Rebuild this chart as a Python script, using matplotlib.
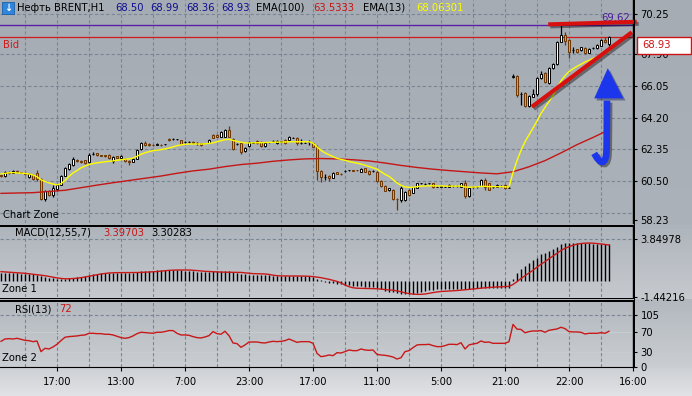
import numpy as np
import matplotlib
matplotlib.use("Agg")
import matplotlib.pyplot as plt
from matplotlib import patheffects as pe
from matplotlib.lines import Line2D
from matplotlib.patches import Polygon, Rectangle

plt.rcParams['font.family'] = ['DejaVu Sans']

# ---------------- values (H1 bars) ----------------
opens = [
    60.85, 60.78, 61.05, 60.98, 61.12, 61.02, 61.00, 60.72, 60.88, 60.95,
    60.60, 59.46, 59.95, 59.70, 60.05, 60.30, 60.82, 61.20, 61.45, 61.75,
    61.68, 61.72, 61.60, 62.08, 62.12, 62.02, 62.00, 62.05, 61.70, 61.95,
    61.85, 61.80, 61.68, 61.62, 61.82, 62.35, 62.75, 62.65, 62.62, 62.63,
    62.63, 62.64, 62.98, 62.95, 62.95, 62.90, 62.78, 62.77, 62.80, 62.72,
    62.72, 62.72, 62.72, 63.20, 63.22, 63.08, 63.10, 63.50, 62.95, 62.65,
    62.75, 62.25, 62.55, 62.75, 62.85, 62.80, 62.55, 62.76, 62.84, 62.71,
    62.80, 62.90, 62.90, 63.03, 63.00, 62.74, 62.74, 62.79, 62.71, 62.51,
    61.10, 60.75, 60.80, 60.70, 61.02, 60.93, 61.09, 61.14, 61.13, 61.14,
    61.05, 61.25, 61.10, 61.09, 61.05, 60.51, 60.22, 59.98, 59.98, 59.47,
    59.42, 59.42, 59.98, 59.83, 60.10, 60.37, 60.34, 60.37, 60.38, 60.17,
    60.18, 60.17, 60.16, 60.21, 60.22, 60.16, 60.39, 59.64, 60.15, 60.15,
    60.22, 60.57, 60.38, 60.15, 60.16, 60.21, 60.28, 60.11, 66.60, 66.64,
    65.57, 65.66, 64.88, 65.43, 65.57, 66.50, 66.79, 66.21, 67.08, 67.32,
    68.64, 69.03, 68.74, 68.15, 68.19, 68.15, 68.29, 67.99, 68.25, 68.25,
    68.40, 68.73, 68.50]
highs = [
    60.92, 61.10, 61.08, 61.16, 61.15, 61.05, 61.02, 60.95, 60.92, 61.15,
    60.70, 60.00, 60.00, 60.28, 60.35, 60.88, 61.30, 61.58, 61.90, 61.80,
    61.72, 61.75, 62.12, 62.20, 62.15, 62.05, 62.05, 62.08, 61.98, 61.98,
    62.00, 61.85, 61.72, 61.85, 62.35, 62.78, 62.85, 62.70, 62.65, 62.70,
    62.68, 62.68, 63.02, 63.00, 62.98, 62.92, 62.82, 62.83, 62.85, 62.78,
    62.75, 62.75, 62.95, 63.25, 63.25, 63.45, 63.55, 63.70, 63.00, 62.72,
    62.80, 62.50, 62.85, 62.80, 62.88, 62.84, 62.78, 62.80, 62.90, 62.88,
    62.84, 62.95, 63.15, 63.08, 63.05, 62.97, 62.78, 62.90, 62.75, 62.61,
    61.15, 60.90, 60.84, 61.02, 61.05, 60.96, 61.14, 61.18, 61.16, 61.17,
    61.24, 61.28, 61.14, 61.14, 61.08, 60.55, 60.26, 60.12, 60.02, 59.50,
    60.20, 59.95, 60.02, 60.18, 60.42, 60.42, 60.38, 60.42, 60.42, 60.22,
    60.22, 60.22, 60.32, 60.26, 60.26, 60.42, 60.57, 60.12, 60.20, 60.20,
    60.62, 60.68, 60.42, 60.20, 60.32, 60.26, 60.32, 60.20, 66.75, 66.70,
    65.72, 65.70, 65.55, 65.90, 66.60, 66.90, 66.85, 67.15, 67.40, 68.70,
    69.62, 69.20, 68.80, 68.30, 68.22, 68.35, 68.32, 68.28, 68.32, 68.50,
    68.78, 68.90, 68.99]
lows = [
    60.74, 60.75, 60.94, 60.95, 61.00, 60.97, 60.86, 60.68, 60.55, 60.50,
    59.40, 59.32, 59.62, 59.55, 59.95, 60.25, 60.78, 61.15, 61.40, 61.60,
    61.58, 61.50, 61.55, 62.00, 61.98, 61.95, 61.92, 61.82, 61.55, 61.85,
    61.80, 61.60, 61.45, 61.60, 61.80, 62.30, 62.55, 62.58, 62.56, 62.60,
    62.58, 62.60, 62.85, 62.90, 62.92, 62.65, 62.75, 62.75, 62.70, 62.60,
    62.58, 62.70, 62.70, 63.00, 63.05, 63.05, 63.08, 63.05, 62.30, 62.60,
    62.10, 62.20, 62.50, 62.70, 62.68, 62.52, 62.52, 62.72, 62.80, 62.68,
    62.76, 62.68, 62.88, 63.00, 62.60, 62.66, 62.70, 62.62, 62.48, 60.57,
    60.47, 60.57, 60.50, 60.66, 60.90, 60.88, 61.05, 61.10, 61.08, 61.10,
    61.02, 61.02, 60.88, 61.05, 60.48, 60.18, 59.90, 59.95, 59.40, 58.80,
    59.30, 59.35, 59.65, 59.80, 60.08, 60.33, 60.30, 60.34, 60.12, 60.14,
    60.14, 60.14, 60.14, 60.18, 60.18, 60.14, 59.50, 59.60, 60.12, 60.12,
    60.20, 59.98, 59.96, 60.12, 60.14, 60.18, 60.04, 60.08, 66.50, 65.40,
    64.94, 64.80, 64.82, 65.40, 65.45, 66.45, 66.25, 66.15, 67.02, 67.28,
    68.60, 68.45, 67.67, 68.00, 67.98, 68.10, 67.92, 67.95, 68.20, 68.22,
    68.38, 68.55, 68.36]
closes = [
    60.78, 61.05, 60.98, 61.12, 61.02, 61.00, 60.90, 60.92, 60.62, 60.62,
    59.46, 59.95, 59.70, 60.10, 60.30, 60.82, 61.25, 61.50, 61.80, 61.65,
    61.62, 61.58, 62.05, 62.10, 62.00, 61.98, 61.95, 61.85, 61.90, 61.88,
    61.95, 61.65, 61.60, 61.82, 62.30, 62.72, 62.60, 62.62, 62.60, 62.64,
    62.62, 62.64, 62.88, 62.96, 62.95, 62.68, 62.78, 62.80, 62.72, 62.73,
    62.62, 62.72, 62.90, 63.02, 63.08, 63.35, 63.50, 63.10, 62.35, 62.66,
    62.22, 62.45, 62.80, 62.76, 62.70, 62.55, 62.75, 62.77, 62.85, 62.84,
    62.80, 62.71, 63.10, 63.04, 62.71, 62.75, 62.74, 62.80, 62.51, 61.10,
    60.73, 60.76, 60.67, 60.99, 60.92, 60.92, 61.10, 61.15, 61.12, 61.13,
    61.21, 61.05, 60.92, 61.10, 60.51, 60.22, 59.94, 60.08, 59.44, 59.46,
    60.12, 59.85, 59.70, 60.15, 60.38, 60.38, 60.35, 60.38, 60.15, 60.18,
    60.18, 60.18, 60.28, 60.22, 60.22, 60.38, 59.64, 60.08, 60.16, 60.16,
    60.57, 60.16, 59.99, 60.16, 60.28, 60.22, 60.08, 60.12, 66.62, 65.53,
    65.58, 64.88, 65.49, 65.58, 66.50, 66.75, 66.30, 67.08, 67.32, 68.64,
    69.03, 68.68, 68.05, 68.16, 68.02, 68.31, 67.96, 68.24, 68.26, 68.44,
    68.73, 68.60, 68.93]

ema13 = [
    60.92, 60.96, 60.99, 61.00, 60.98, 60.97, 60.95, 60.92, 60.86, 60.76,
    60.58, 60.48, 60.40, 60.33, 60.28, 60.35, 60.55, 60.78, 60.98, 61.12,
    61.28, 61.38, 61.47, 61.53, 61.57, 61.60, 61.63, 61.66, 61.68, 61.72,
    61.75, 61.78, 61.80, 61.85, 61.95, 62.07, 62.16, 62.22, 62.28, 62.31,
    62.34, 62.38, 62.43, 62.50, 62.57, 62.62, 62.65, 62.67, 62.67, 62.67,
    62.67, 62.68, 62.70, 62.74, 62.80, 62.86, 62.92, 62.94, 62.88, 62.82,
    62.77, 62.73, 62.73, 62.74, 62.74, 62.75, 62.75, 62.76, 62.77, 62.78,
    62.78, 62.79, 62.80, 62.80, 62.80, 62.80, 62.80, 62.80, 62.72, 62.50,
    62.30, 62.15, 62.04, 61.93, 61.83, 61.77, 61.72, 61.65, 61.60, 61.55,
    61.50, 61.43, 61.36, 61.28, 61.20, 61.05, 60.90, 60.78, 60.60, 60.40,
    60.25, 60.17, 60.14, 60.14, 60.18, 60.21, 60.22, 60.23, 60.23, 60.22,
    60.22, 60.21, 60.21, 60.21, 60.21, 60.22, 60.16, 60.15, 60.16, 60.16,
    60.20, 60.20, 60.18, 60.18, 60.18, 60.18, 60.17, 60.16, 61.00, 61.70,
    62.30, 62.80, 63.20, 63.60, 64.00, 64.45, 64.80, 65.15, 65.50, 65.90,
    66.35, 66.65, 66.90, 67.05, 67.20, 67.32, 67.45, 67.55, 67.65, 67.75,
    67.88, 67.97, 68.06]

# EMA(100) read every 4th bar
ema100 = [
    59.79, 59.81, 59.83, 59.90, 59.97, 60.12, 60.27, 60.41, 60.54, 60.67,
    60.80, 60.96, 61.10, 61.20, 61.35, 61.47, 61.55, 61.66, 61.74, 61.80,
    61.82, 61.80, 61.75, 61.68, 61.56, 61.42, 61.30, 61.20, 61.12, 61.05,
    60.98, 60.93, 61.05, 61.34, 61.70, 62.15, 62.63, 63.05, 63.50]

macd_hist = [
    0.75, 0.75, 0.74, 0.73, 0.72, 0.70, 0.68, 0.66, 0.62, 0.60,
    0.45, 0.35, 0.28, 0.25, 0.20, 0.20, 0.22, 0.26, 0.30, 0.35,
    0.42, 0.50, 0.57, 0.64, 0.68, 0.72, 0.74, 0.76, 0.77, 0.76,
    0.75, 0.74, 0.74, 0.76, 0.82, 0.90, 0.93, 0.95, 0.96, 1.00,
    1.02, 1.03, 1.05, 1.05, 1.03, 1.00, 0.97, 0.95, 0.92, 0.88,
    0.86, 0.86, 0.87, 0.90, 0.90, 0.92, 0.93, 0.90, 0.80, 0.74,
    0.66, 0.62, 0.60, 0.58, 0.56, 0.54, 0.53, 0.52, 0.51, 0.50,
    0.49, 0.49, 0.50, 0.50, 0.48, 0.47, 0.46, 0.45, 0.42, 0.24,
    0.08, -0.04, -0.12, -0.18, -0.24, -0.30, -0.34, -0.38, -0.42, -0.45,
    -0.48, -0.50, -0.53, -0.57, -0.65, -0.75, -0.85, -0.95, -1.03, -1.10,
    -1.15, -1.17, -1.17, -1.13, -1.05, -0.95, -0.88, -0.82, -0.78, -0.75,
    -0.73, -0.71, -0.70, -0.69, -0.68, -0.67, -0.70, -0.69, -0.67, -0.65,
    -0.64, -0.63, -0.62, -0.62, -0.61, -0.61, -0.60, -0.60, 0.22, 0.75,
    1.10, 1.35, 1.65, 1.90, 2.15, 2.45, 2.60, 2.80, 2.95, 3.15,
    3.38, 3.48, 3.52, 3.53, 3.53, 3.52, 3.50, 3.47, 3.43, 3.40,
    3.38, 3.37, 3.40]
macd_signal = [
    0.87, 0.85, 0.82, 0.79, 0.77, 0.75, 0.72, 0.68, 0.64, 0.60,
    0.55, 0.50, 0.43, 0.36, 0.30, 0.25, 0.22, 0.22, 0.24, 0.27,
    0.32, 0.38, 0.45, 0.53, 0.60, 0.66, 0.71, 0.75, 0.77, 0.78,
    0.78, 0.78, 0.78, 0.78, 0.79, 0.80, 0.82, 0.84, 0.86, 0.88,
    0.92, 0.96, 0.99, 1.01, 1.02, 1.02, 1.02, 1.02, 1.00, 0.97,
    0.93, 0.90, 0.88, 0.87, 0.85, 0.83, 0.82, 0.81, 0.81, 0.81,
    0.80, 0.76, 0.72, 0.69, 0.68, 0.67, 0.66, 0.62, 0.55, 0.50,
    0.48, 0.48, 0.48, 0.48, 0.48, 0.47, 0.46, 0.45, 0.42, 0.37,
    0.32, 0.25, 0.17, 0.08, -0.02, -0.15, -0.35, -0.50, -0.60, -0.64,
    -0.65, -0.66, -0.66, -0.67, -0.69, -0.72, -0.76, -0.80, -0.82, -0.88,
    -0.97, -1.06, -1.13, -1.18, -1.20, -1.20, -1.17, -1.10, -1.04, -0.98,
    -0.94, -0.92, -0.90, -0.88, -0.85, -0.82, -0.79, -0.75, -0.71, -0.67,
    -0.63, -0.60, -0.57, -0.55, -0.53, -0.51, -0.50, -0.47, -0.30, -0.05,
    0.25, 0.50, 0.75, 1.00, 1.28, 1.55, 1.78, 2.05, 2.30, 2.55,
    2.80, 3.00, 3.15, 3.28, 3.38, 3.44, 3.47, 3.48, 3.47, 3.44,
    3.40, 3.35, 3.30]

rsi = [
    51.6, 56.3, 57.0, 56.3, 57.7, 55.6, 53.6, 52.9, 50.9, 52.2,
    30.6, 37.4, 36.0, 40.1, 45.5, 53.0, 59.8, 61.1, 61.8, 62.5,
    63.8, 64.5, 67.9, 67.9, 67.2, 67.2, 65.9, 65.9, 64.5, 61.8,
    59.1, 57.7, 59.1, 62.5, 67.2, 70.0, 69.3, 68.6, 67.9, 70.0,
    70.0, 71.3, 73.4, 73.4, 67.9, 64.5, 64.5, 63.8, 61.1, 59.1,
    58.4, 60.4, 63.1, 71.3, 67.2, 66.0, 72.0, 63.1, 48.2, 46.9,
    39.4, 44.2, 50.2, 50.2, 50.2, 48.8, 48.2, 50.2, 51.6, 50.9,
    51.6, 52.9, 56.3, 52.9, 49.5, 50.9, 50.9, 50.9, 47.5, 27.2,
    20.4, 21.7, 23.8, 22.4, 28.5, 27.8, 30.6, 34.0, 32.6, 32.6,
    36.0, 34.0, 33.3, 34.0, 25.1, 23.8, 23.1, 21.7, 19.7, 15.6,
    18.3, 30.6, 32.6, 38.7, 44.2, 44.9, 44.9, 45.5, 42.8, 40.8,
    40.8, 42.8, 45.5, 45.5, 44.9, 48.8, 36.0, 44.2, 46.2, 47.5,
    52.2, 49.5, 50.2, 47.5, 47.5, 47.5, 47.5, 50.9, 85.9, 76.4,
    75.7, 68.9, 71.3, 72.6, 72.6, 73.3, 69.9, 74.0, 75.4, 76.7,
    80.1, 77.4, 71.3, 70.6, 70.6, 69.9, 66.5, 67.9, 67.9, 67.9,
    69.2, 67.9, 72.0]

price_ticks = [70.25, 67.90, 66.05, 64.20, 62.35, 60.50, 58.23]
price_grid = [70.25, 67.90, 66.05, 64.20, 62.35, 60.50, 58.65]
macd_ticks = [3.84978, -1.44216]
rsi_ticks = [105, 70, 30, 0]
time_labels = ["17:00", "13:00", "7:00", "23:00", "17:00", "11:00",
               "5:00", "21:00", "22:00", "16:00"]
purple_level = 69.62
ema100_last, ema13_last = "63.5333", "68.06301"
macd_last, signal_last, rsi_last = "3.39703", "3.30283", "72"

# hand-drawn objects on the chart (bar index, price)
trend_up_x, trend_up_y = [132.7, 157.7], [64.84, 69.19]
trend_top_x, trend_top_y = [136.8, 158.9], [69.65, 69.80]
arrow_x = [151.5, 151.45, 151.4, 151.3, 151.0, 150.5, 149.8, 149.0, 148.3]
arrow_y = [65.2, 63.5, 62.4, 62.0, 61.75, 61.62, 61.65, 61.85, 62.12]
head_x, head_y = [148.3, 155.6, 151.7], [65.33, 65.33, 67.09]

# ---------------- figure ----------------
W, H = 692, 396
FS = 7.2
fig = plt.figure(figsize=(W / 100, H / 100), dpi=100)

# background bands of the terminal window
bg = fig.add_axes([0, 0, 1, 1])
bg.set_axis_off()
rows = np.zeros((H, 1, 3))


def band(y0, y1, c0, c1):
    t = np.linspace(0, 1, y1 - y0)[:, None]
    rows[y0:y1, 0, :] = (np.array(c0) * (1 - t) + np.array(c1) * t) / 255


band(0, 225, (165, 172, 180), (172, 178, 185))
band(225, 299, (174, 180, 187), (198, 202, 207))
band(299, 368, (178, 184, 190), (202, 206, 210))
band(368, H, (206, 209, 213), (224, 226, 229))
bg.imshow(rows, extent=[0, W, H, 0], aspect='auto', interpolation='nearest')
bg.set_xlim(0, W)
bg.set_ylim(H, 0)


def px_axes(x0, y0, x1, y1):
    ax = fig.add_axes([x0 / W, 1 - y1 / H, (x1 - x0) / W, (y1 - y0) / H])
    ax.patch.set_alpha(0)
    for s in ['top', 'left', 'bottom']:
        ax.spines[s].set_visible(False)
    ax.spines['right'].set_color('black')
    ax.spines['right'].set_linewidth(1.0)
    ax.yaxis.tick_right()
    ax.tick_params(axis='y', length=3, width=0.8, pad=2.5, labelsize=FS, colors='black')
    ax.tick_params(axis='x', bottom=False, labelbottom=False)
    ax.set_xlim(-0.25, 158)
    return ax


ax = px_axes(0, 0, 633, 223)
ax_m = px_axes(0, 227, 633, 297)
ax_r = px_axes(0, 301, 633, 367)

ax.set_ylim(58.06, 71.07)
ax_m.set_ylim(-1.442, 4.945)
ax_r.set_ylim(-0.61, 133.5)

grid_kw = dict(color='#7b8693', lw=0.8, ls=(0, (3, 2)), zorder=0)
vgrid = np.arange(6, 158, 8)
for a in (ax, ax_m, ax_r):
    for g in vgrid:
        a.axvline(g, **grid_kw)
for p in price_grid:
    ax.axhline(p, **grid_kw)
ax_m.axhline(macd_ticks[0], **grid_kw)
ax_r.axhline(rsi_ticks[0], **grid_kw)
for lv in rsi_ticks[1:3]:
    ax_r.axhline(lv, color='#c9cdd2', lw=0.7, zorder=0)

# ---- candles ----
o, h, l, c = map(np.array, (opens, highs, lows, closes))
x = np.arange(len(c))
up = c >= o
ax.vlines(x[up], l[up], h[up], color='black', lw=0.9, zorder=2)
ax.vlines(x[~up], l[~up], h[~up], color='#6e3500', lw=0.9, zorder=2)
body = np.maximum(np.abs(c - o), 0.015)
base = np.minimum(o, c)
ax.bar(x[up], body[up], bottom=base[up], width=0.6, color='white',
       edgecolor='black', lw=0.7, zorder=3)
ax.bar(x[~up], body[~up], bottom=base[~up], width=0.6, color='#ec9a2e',
       edgecolor='#6e3500', lw=0.7, zorder=3)

ax.plot(np.arange(0, len(c), 4), ema100, color='#c41616', lw=1.0, zorder=4)
ax.plot(x, ema13, color='#ffff00', lw=1.0, zorder=4)

ax.axhline(purple_level, color='#5a1fa6', lw=1.0, zorder=1)
ax.axhline(c[-1], color='#d21a1a', lw=0.9, zorder=1)
ax.text(157.3, purple_level + 0.12, f"{purple_level:.2f}", color='#4b1a9a',
        fontsize=FS, ha='right', va='bottom', zorder=5)
ax.text(0.6, c[-1] - 0.2, "Bid", color='#d21a1a', fontsize=FS, va='top', zorder=5)
ax.text(0.6, 58.5, "Chart Zone", color='black', fontsize=FS, va='center', zorder=5)

shadow = [pe.SimpleLineShadow(offset=(1.5, -1.5), shadow_color='black', alpha=0.4), pe.Normal()]
ax.plot(trend_up_x, trend_up_y, color='#d80f0f', lw=2.9, solid_capstyle='butt',
        path_effects=shadow, zorder=6, clip_on=False)
ax.plot(trend_top_x, trend_top_y, color='#d80f0f', lw=2.9, solid_capstyle='butt',
        path_effects=shadow, zorder=6, clip_on=False)
ax.plot(arrow_x, arrow_y, color='#1c36ec', lw=4.8, solid_capstyle='butt',
        solid_joinstyle='round', path_effects=shadow, zorder=6)
ax.add_patch(Polygon(np.column_stack([head_x, head_y]), closed=True, fc='#1c36ec',
                     ec='none', zorder=6,
                     path_effects=[pe.SimplePatchShadow(offset=(1.5, -1.5), alpha=0.4), pe.Normal()]))

ax.set_yticks(price_ticks, [f"{p:.2f}" for p in price_ticks])

# ---- MACD ----
ax_m.vlines(x, 0, macd_hist, color='black', lw=1.0, zorder=2)
ax_m.plot(x, macd_signal, color='#c81818', lw=1.0, zorder=3)
ax_m.set_yticks(macd_ticks, [f"{v:.5f}" for v in macd_ticks])

# ---- RSI ----
ax_r.plot(x, rsi, color='#c81818', lw=1.0, zorder=3)
ax_r.set_yticks(rsi_ticks, [str(v) for v in rsi_ticks])
ax_r.spines['bottom'].set_visible(True)
ax_r.spines['bottom'].set_color('black')
ax_r.set_xticks(np.arange(14, 159, 16), time_labels)
ax_r.tick_params(axis='x', bottom=True, labelbottom=True, length=3, width=0.8,
                 pad=4, labelsize=FS, colors='black')


# ---- window furniture in pixel units ----
def fx(px):
    return px / W


def fy(py):
    return 1 - py / H


def to_py(a, v):
    return H - a.transData.transform((0, v))[1]


for (yy, lw) in [(225.5, 2.0), (297.5, 1.0), (300.5, 2.0)]:
    fig.add_artist(Line2D([fx(0), fx(633.5)], [fy(yy), fy(yy)], color='black', lw=lw * 0.72))
fig.add_artist(Line2D([fx(633.5), fx(633.5)], [fy(0), fy(367)], color='black', lw=0.72))

# current price box
yb = to_py(ax, c[-1])
fig.add_artist(Rectangle((fx(637), fy(yb + 17)), 54 / W, 17 / H, transform=fig.transFigure,
                         fc='white', ec='#cc1414', lw=1.0, zorder=5))
fig.text(fx(642), fy(yb + 8.5), f"{c[-1]:.2f}", color='#cc1414', fontsize=FS,
         va='center', zorder=6)

# header line
fig.add_artist(Rectangle((fx(2), fy(14)), 12 / W, 12 / H, transform=fig.transFigure,
                         fc='#2f86dc', ec='#1c5fa8', lw=0.6, zorder=5))
fig.text(fx(8), fy(8), "\u2193", color='white', fontsize=7, fontweight='bold',
         ha='center', va='center', zorder=6)
navy = '#0d0d8c'
header = [(17, "Нефть BRENT,H1", 'black'),
          (115, f"{o[-1]:.2f}", navy), (150, f"{h[-1]:.2f}", navy),
          (186, f"{l[-1]:.2f}", navy), (221, f"{c[-1]:.2f}", navy),
          (256, "EMA(100)", 'black'), (313, ema100_last, '#c81414'),
          (363, "EMA(13)", 'black'), (416, ema13_last, '#ffff00')]
for px, s, col in header:
    fig.text(fx(px), fy(8), s, color=col, fontsize=FS, va='center')

fig.text(fx(15), fy(233), "MACD(12,55,7)", color='black', fontsize=FS, va='center')
fig.text(fx(103), fy(233), macd_last, color='#c81414', fontsize=FS, va='center')
fig.text(fx(151), fy(233), signal_last, color='black', fontsize=FS, va='center')
fig.text(fx(2), fy(289), "Zone 1", color='black', fontsize=FS, va='center')
fig.text(fx(15), fy(309), "RSI(13)", color='black', fontsize=FS, va='center')
fig.text(fx(59), fy(309), rsi_last, color='#c81414', fontsize=FS, va='center')
fig.text(fx(2), fy(358), "Zone 2", color='black', fontsize=FS, va='center')

fig.savefig("out.png", dpi=100)
